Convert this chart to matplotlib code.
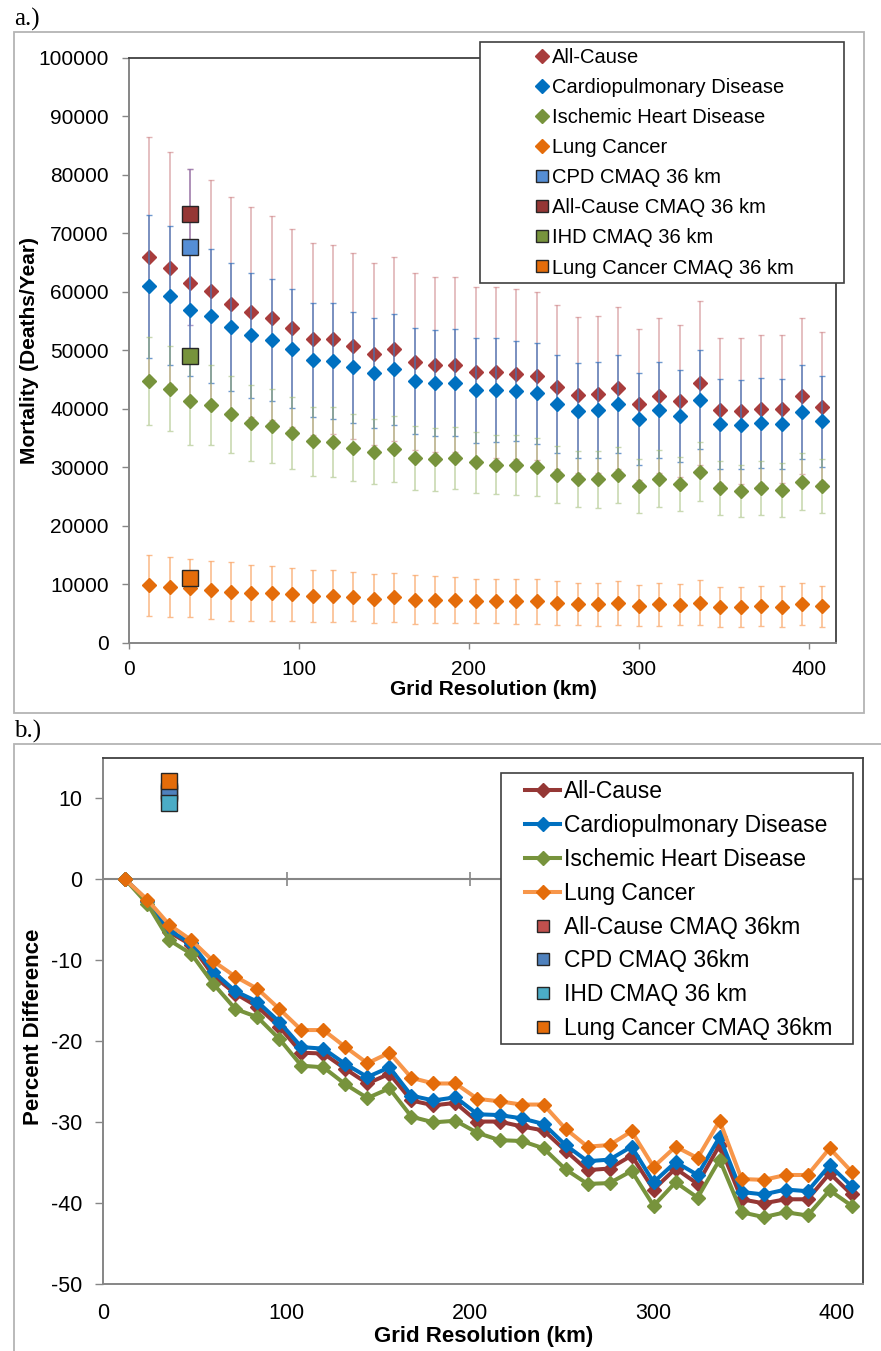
import matplotlib
matplotlib.use("Agg")
import matplotlib.pyplot as plt
from matplotlib.lines import Line2D
from matplotlib.patches import Rectangle
import numpy as np

plt.rcParams['font.family'] = ['Liberation Sans', 'DejaVu Sans']
plt.rcParams['axes.unicode_minus'] = False

# ---- data -------------------------------------------------------------
grid_km = [12, 24, 36, 48, 60, 72, 84, 96, 108, 120, 132, 144, 156, 168, 180,
           192, 204, 216, 228, 240, 252, 264, 276, 288, 300, 312, 324, 336,
           348, 360, 372, 384, 396, 408]

all_cause = [66000, 64100, 61500, 60200, 58000, 56600, 55600, 53900, 51900, 51900,
             50700, 49400, 50200, 48100, 47600, 47600, 46300, 46300, 46000, 45600,
             43800, 42400, 42500, 43600, 40800, 42300, 41300, 44500, 39800, 39700,
             40000, 40000, 42200, 40400]
all_cause_hi = [86500, 84000, 81100, 79100, 76300, 74500, 73000, 70800, 68300, 68100,
                66600, 64900, 65900, 63200, 62600, 62600, 60900, 60900, 60500, 60000,
                57800, 55800, 55900, 57500, 53700, 55600, 54300, 58500, 52200, 52200,
                52700, 52600, 55500, 53100]

cpd = [61000, 59400, 57000, 55900, 54000, 52600, 51800, 50300, 48400, 48200,
       47100, 46100, 46800, 44800, 44400, 44500, 43200, 43200, 43100, 42700,
       40900, 39700, 39800, 40800, 38300, 39800, 38800, 41600, 37400, 37300,
       37600, 37500, 39500, 37900]
cpd_hi = [73200, 71300, 68300, 67300, 65000, 63300, 62300, 60500, 58200, 58100,
          56600, 55500, 56300, 53800, 53500, 53600, 52200, 52100, 51700, 51300,
          49300, 47800, 48000, 49200, 46100, 48000, 46600, 50100, 45100, 44900,
          45300, 45200, 47600, 45700]

ihd = [44800, 43500, 41300, 40700, 39100, 37600, 37100, 35900, 34500, 34400,
       33400, 32700, 33200, 31600, 31400, 31600, 30900, 30500, 30400, 30100,
       28800, 28000, 28000, 28700, 26800, 28100, 27200, 29300, 26500, 26000,
       26500, 26200, 27600, 26800]
ihd_hi = [52300, 50800, 48800, 47600, 45700, 44100, 43500, 42100, 40400, 40400,
          39100, 38300, 38800, 37100, 36800, 36900, 36100, 35600, 35500, 35100,
          33700, 32800, 32900, 33500, 31400, 33000, 31800, 34400, 31100, 30500,
          31100, 30800, 32400, 31400]

lung = [9900, 9600, 9400, 9100, 8800, 8600, 8500, 8300, 8000, 8000,
        7900, 7600, 7800, 7400, 7400, 7400, 7200, 7200, 7100, 7100,
        6800, 6600, 6600, 6800, 6400, 6600, 6500, 6900, 6200, 6200,
        6300, 6200, 6600, 6300]
lung_hi = [15100, 14700, 14300, 14100, 13800, 13400, 13200, 12800, 12400, 12400,
           12100, 11800, 12000, 11600, 11400, 11300, 11000, 11000, 11000, 11000,
           10600, 10200, 10300, 10600, 9900, 10300, 10000, 10700, 9600, 9600,
           9700, 9700, 10200, 9800]

cmaq_km = 36
cmaq_all, cmaq_cpd, cmaq_ihd, cmaq_lung = 73300, 67700, 49100, 11100
cmaq_cpd_hi = 81000

pct_all = [0, -2.7, -6.5, -8.1, -11.9, -14.1, -15.7, -18.2, -21.4, -21.5, -23.4, -25.2,
           -24.0, -27.3, -27.9, -27.6, -29.9, -29.9, -30.5, -31.0, -33.5, -35.9, -35.7,
           -34.1, -38.3, -35.7, -37.6, -32.8, -39.5, -40.0, -39.5, -39.5, -36.3, -38.9]
pct_cpd = [0, -2.6, -6.3, -7.9, -11.4, -13.8, -15.1, -17.6, -20.7, -20.9, -22.8, -24.4,
           -23.2, -26.7, -27.3, -26.9, -29.0, -29.1, -29.5, -30.2, -32.8, -34.8, -34.6,
           -33.0, -37.4, -34.9, -36.5, -31.8, -38.6, -38.9, -38.3, -38.5, -35.3, -37.9]
pct_ihd = [0, -3.0, -7.5, -9.2, -12.9, -16.0, -17.0, -19.7, -23.0, -23.2, -25.3, -27.0,
           -25.8, -29.3, -30.0, -29.8, -31.3, -32.2, -32.3, -33.2, -35.8, -37.6, -37.5,
           -36.0, -40.3, -37.4, -39.3, -34.6, -41.1, -41.7, -41.1, -41.5, -38.4, -40.3]
pct_lung = [0, -2.5, -5.6, -7.5, -10.1, -12.0, -13.5, -16.0, -18.6, -18.6, -20.7, -22.7,
            -21.4, -24.5, -25.2, -25.2, -27.1, -27.4, -27.8, -27.8, -30.8, -33.0, -32.8,
            -31.1, -35.5, -33.0, -34.4, -29.8, -37.0, -37.1, -36.5, -36.5, -33.2, -36.1]
pct_cmaq_all, pct_cmaq_cpd, pct_cmaq_ihd, pct_cmaq_lung = 10.9, 10.7, 9.4, 12.1

labels_a = ['All-Cause', 'Cardiopulmonary Disease', 'Ischemic Heart Disease', 'Lung Cancer',
            'CPD CMAQ 36 km', 'All-Cause CMAQ 36 km', 'IHD CMAQ 36 km', 'Lung Cancer CMAQ 36 km']
labels_b = ['All-Cause', 'Cardiopulmonary Disease', 'Ischemic Heart Disease', 'Lung Cancer',
            'All-Cause CMAQ 36km', 'CPD CMAQ 36km', 'IHD CMAQ 36 km', 'Lung Cancer CMAQ 36km']

# ---- figure -----------------------------------------------------------
W, H = 881, 1351
fig = plt.figure(figsize=(W / 100, H / 100), dpi=100)


def px_box(x0, y0, x1, y1):
    return [x0 / W, 1 - y1 / H, (x1 - x0) / W, (y1 - y0) / H]


def frame(x0, y0, x1, y1, ec, lw, fc='none', z=1):
    b = px_box(x0, y0, x1, y1)
    fig.add_artist(Rectangle((b[0], b[1]), b[2], b[3], transform=fig.transFigure,
                             fill=(fc != 'none'), fc=fc, ec=ec, lw=lw, zorder=z))


GRAY = '#868686'
DARK = '#404040'

# outer panel frames and panel labels
frame(14, 32, 864, 713, '#B4B4B4', 1.3)
frame(14, 744, 895, 1365, '#B4B4B4', 1.3)
fig.text(14 / W, 1 - 19 / H, 'a.)', family='Liberation Serif', fontsize=18, va='center')
fig.text(14 / W, 1 - 731 / H, 'b.)', family='Liberation Serif', fontsize=18, va='center')

# ---- panel a ----------------------------------------------------------
ax1 = fig.add_axes(px_box(129, 58, 836, 643))
x = np.array(grid_km)

series_a = [
    (all_cause, all_cause_hi, '#A83C3C', (0.82, 0.55, 0.56, 0.65)),
    (cpd, cpd_hi, '#0070C0', (0.25, 0.47, 0.75, 0.75)),
    (ihd, ihd_hi, '#77933C', (0.62, 0.73, 0.45, 0.55)),
    (lung, lung_hi, '#E46C0A', (0.98, 0.68, 0.45, 0.8)),
]
for i, (vals, hi, mc, ec) in enumerate(series_a):
    vals = np.array(vals)
    err = np.array(hi) - vals
    ax1.errorbar(x, vals, yerr=err, fmt='D', ms=7, mfc=mc, mec=mc, ecolor=ec,
                 elinewidth=1.2, capsize=2.5, capthick=1.0, zorder=3 + i)

ax1.errorbar([cmaq_km], [cmaq_cpd], yerr=[cmaq_cpd_hi - cmaq_cpd], fmt='none',
             ecolor=(0.55, 0.45, 0.7, 0.7), elinewidth=1.2, capsize=2.5, zorder=3.5)
sq_a = [(cmaq_cpd, '#558ED5'), (cmaq_all, '#953735'), (cmaq_ihd, '#77933C'), (cmaq_lung, '#E46C0A')]
for v, c in sq_a:
    ax1.plot([cmaq_km], [v], 's', ms=12, mfc=c, mec='#262626', mew=1.0, zorder=10)

ax1.set_xlim(0, 416)
ax1.set_ylim(0, 100000)
ax1.set_xticks([0, 100, 200, 300, 400])
ax1.set_yticks(np.arange(0, 100001, 10000))
ax1.tick_params(axis='both', labelsize=15, colors=GRAY, labelcolor='black', direction='out')
ax1.tick_params(axis='y', length=5, width=1.0, pad=9.5)
ax1.tick_params(axis='x', length=4, width=1.0, pad=8)
for s in ['left', 'bottom']:
    ax1.spines[s].set_color(GRAY)
    ax1.spines[s].set_linewidth(1.4)
for s in ['top', 'right']:
    ax1.spines[s].set_color(DARK)
    ax1.spines[s].set_linewidth(1.3)
ax1.set_ylabel('Mortality (Deaths/Year)', fontsize=15, fontweight='bold')
ax1.yaxis.set_label_coords(-0.128, 0.5)
ax1.set_xlabel('Grid Resolution (km)', fontsize=15, fontweight='bold')
ax1.xaxis.set_label_coords(0.516, -0.064)

# legend a
frame(480, 42, 844, 283, DARK, 1.2, fc='white', z=4)
cols_a = ['#A83C3C', '#0070C0', '#77933C', '#E46C0A']
h_a = [Line2D([], [], ls='none', marker='D', ms=7, mfc=c, mec=c) for c in cols_a]
h_a += [Line2D([], [], ls='none', marker='s', ms=9, mfc=c, mec='#262626', mew=1.0)
        for _, c in sq_a]
fig.legend(h_a, labels_a, loc='upper left', bbox_to_anchor=(532 / W, 1 - 48 / H),
           frameon=False, fontsize=14.5, handlelength=1.0, handletextpad=0.0,
           labelspacing=0.55, borderpad=0, borderaxespad=0)

# ---- panel b ----------------------------------------------------------
ax2 = fig.add_axes(px_box(103.3, 758, 862.7, 1284.3))
series_b = [
    (pct_all, '#953735', '#953735'),
    (pct_cpd, '#0070C0', '#0070C0'),
    (pct_ihd, '#77933C', '#77933C'),
    (pct_lung, '#F7964A', '#E46C0A'),
]
for i, (vals, lc, mc) in enumerate(series_b):
    ax2.plot(x, vals, '-D', color=lc, lw=2.9, ms=7, mfc=mc, mec=mc, zorder=3 + i)

sq_b = [(pct_cmaq_all, '#C0504D'), (pct_cmaq_cpd, '#4F81BD'),
        (pct_cmaq_ihd, '#4BACC6'), (pct_cmaq_lung, '#E46C0A')]
for v, c in sq_b:
    ax2.plot([cmaq_km], [v], 's', ms=11, mfc=c, mec='#262626', mew=1.0, zorder=10)

ax2.set_xlim(0, 414)
ax2.set_ylim(-50, 15)
xt = [0, 100, 200, 300, 400]
ax2.set_xticks(xt)
ax2.set_yticks([-50, -40, -30, -20, -10, 0, 10])
ax2.tick_params(axis='both', labelsize=15.5, colors=GRAY, labelcolor='black')
ax2.tick_params(axis='y', direction='out', length=5.5, width=1.0, pad=9.5)
ax2.tick_params(axis='x', length=0, pad=13.5)
ax2.axhline(0, color=GRAY, lw=1.5, zorder=2)
ax2.plot(xt[1:], [0] * (len(xt) - 1), ls='none', marker='|', ms=9.5, mew=1.2,
         color=GRAY, zorder=2)
for s in ['left', 'bottom']:
    ax2.spines[s].set_color(GRAY)
    ax2.spines[s].set_linewidth(1.4)
for s in ['top', 'right']:
    ax2.spines[s].set_color(DARK)
    ax2.spines[s].set_linewidth(1.3)
ax2.set_ylabel('Percent Difference', fontsize=16, fontweight='bold')
ax2.yaxis.set_label_coords(-0.078, 0.49)
ax2.set_xlabel('Grid Resolution (km)', fontsize=16, fontweight='bold')
ax2.xaxis.set_label_coords(0.501, -0.079)

# legend b
frame(501, 773, 853, 1044, DARK, 1.2, fc='white', z=4)
h_b = [Line2D([], [], color=lc, lw=2.9, marker='D', ms=7, mfc=mc, mec=mc)
       for _, lc, mc in series_b]
h_b += [Line2D([], [], ls='none', marker='s', ms=8.5, mfc=c, mec='#262626', mew=1.0)
        for _, c in sq_b]
fig.legend(h_b, labels_b, loc='upper left', bbox_to_anchor=(525 / W, 1 - 780 / H),
           frameon=False, fontsize=16.5, handlelength=1.53, handletextpad=0.17,
           labelspacing=0.475, borderpad=0, borderaxespad=0)

fig.savefig('out.png', dpi=100)
